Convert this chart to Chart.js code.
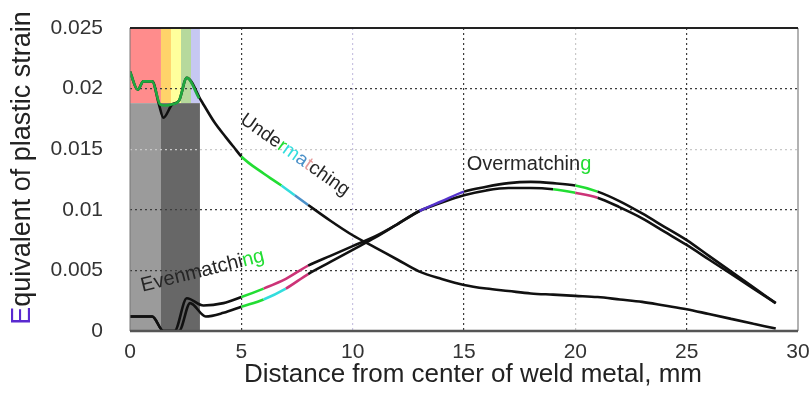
<!DOCTYPE html>
<html>
<head>
<meta charset="UTF-8">
<title>Equivalent plastic strain</title>
<script src="https://cdn.jsdelivr.net/npm/chart.js@4.4.0/dist/chart.umd.min.js"></script>
<style>
  html, body { margin: 0; padding: 0; background: #fff; }
</style>
</head>
<body>
<canvas id="myChart" width="812" height="396"></canvas>

<script>
// values: distance from weld centre (mm) -> equivalent plastic strain
let underX = [0, 0.35, 0.6, 1.0, 1.3, 1.5, 1.9, 2.2, 2.55, 3.2, 3.8, 4.3, 4.65, 5, 6, 6.8, 7.4, 8, 9, 10, 11, 12, 13, 14, 15, 16, 17, 18, 19, 20, 21, 22, 23, 24, 25, 26, 27, 28, 29];
let underY = [0.0214, 0.0199, 0.0206, 0.0206, 0.0187, 0.0176, 0.0187, 0.0190, 0.0209, 0.0190, 0.0172, 0.0160, 0.0152, 0.0144, 0.0130, 0.0120, 0.0112, 0.0104, 0.0091, 0.0079, 0.0069, 0.0059, 0.0049, 0.0043, 0.0038, 0.0035, 0.0033, 0.0031, 0.0030, 0.0029, 0.0028, 0.0026, 0.0024, 0.0021, 0.0018, 0.0014, 0.0010, 0.0006, 0.0002];

// green trace drawn over the weld zone
let underTopX = [0, 0.35, 0.6, 1.0, 1.35, 1.6, 1.9, 2.2, 2.55, 3.1];
let underTopY = [0.0214, 0.0199, 0.0206, 0.0206, 0.0187, 0.0186, 0.0187, 0.0190, 0.0209, 0.0192];

let overX = [0, 1.0, 1.5, 2.0, 2.55, 3.3, 4.2, 5, 6, 7, 8, 9, 10, 11, 12, 13, 14, 15, 16, 17, 18, 19, 20, 21, 22, 23, 24, 25, 26, 27, 28, 29];
let overY = [0.0012, 0.0012, 0.0, 0.0, 0.0027, 0.0021, 0.0023, 0.0028, 0.0035, 0.0043, 0.0054, 0.0062, 0.0070, 0.0078, 0.0088, 0.0099, 0.0107, 0.0115, 0.0119, 0.0122, 0.0123, 0.0122, 0.0120, 0.0115, 0.0107, 0.0097, 0.0086, 0.0075, 0.0062, 0.0049, 0.0036, 0.0023];

let evenX = [0, 1.0, 1.5, 2.2, 2.7, 3.4, 4.2, 5, 6, 7, 8, 9, 10, 11, 12, 13, 14, 15, 16, 17, 18, 19, 20, 21, 22, 23, 24, 25, 26, 27, 28, 29];
let evenY = [0.0012, 0.0012, 0.0, 0.0, 0.0023, 0.0012, 0.0015, 0.0020, 0.0026, 0.0035, 0.0047, 0.0057, 0.0067, 0.0077, 0.0088, 0.0099, 0.0106, 0.0112, 0.0116, 0.0118, 0.0118, 0.0117, 0.0114, 0.0110, 0.0102, 0.0093, 0.0082, 0.0071, 0.0059, 0.0047, 0.0035, 0.0023];

let xTicks = [0, 5, 10, 15, 20, 25, 30];
let yTicks = [0, 0.005, 0.01, 0.015, 0.02, 0.025];

// weld zone bands (mm) and the height of the grey blocks
let zoneEdges = [0, 1.39, 1.84, 2.29, 2.74, 3.14];
let zoneTop = 0.0188;
</script>

<script>
const FONT = '"Liberation Sans", Arial, sans-serif';
const pts = (xs, ys) => xs.map((v, i) => ({ x: v, y: ys[i] }));

const GREEN = '#22dd33', CYAN = '#33dddd', BLUE = '#4a90c8', MAG = '#cc3377', PURP = '#5533cc';

function between(c, a, b) {
  const x0 = c.p0.parsed.x;
  return x0 >= a && x0 < b;
}

// draw a line of text whose pieces have their own colour
function richText(ctx, parts, cx, cy, ang, size) {
  ctx.save();
  ctx.translate(cx, cy);
  ctx.rotate(ang * Math.PI / 180);
  ctx.font = size + 'px ' + FONT;
  ctx.textBaseline = 'middle';
  ctx.textAlign = 'left';
  let w = 0;
  parts.forEach(p => { w += ctx.measureText(p[0]).width; });
  let xx = -w / 2;
  parts.forEach(p => {
    ctx.fillStyle = p[1];
    ctx.fillText(p[0], xx, 0);
    xx += ctx.measureText(p[0]).width;
  });
  ctx.restore();
}

const decor = {
  id: 'decor',
  beforeDraw(chart) {
    const { ctx, chartArea: a, scales: { x, y } } = chart;
    ctx.save();
    ctx.fillStyle = '#fff';
    ctx.fillRect(0, 0, chart.width, chart.height);
    const yt = y.getPixelForValue(zoneTop);
    const px = zoneEdges.map(v => x.getPixelForValue(v));
    const bands = ['#ff8c8c', '#ffd36a', '#ffff9c', '#b6d99c', '#c6c8f2'];
    for (let i = 0; i < bands.length; i++) {
      ctx.fillStyle = bands[i];
      ctx.fillRect(px[i], a.top, px[i + 1] - px[i], yt - a.top);
    }
    ctx.fillStyle = '#9b9b9b';
    ctx.fillRect(px[0], yt, px[1] - px[0], a.bottom - yt);
    ctx.fillStyle = '#676767';
    ctx.fillRect(px[1], yt, px[5] - px[1], a.bottom - yt);
    ctx.restore();
  },
  afterDatasetsDraw(chart) {
    const { ctx, chartArea: a, scales: { x, y } } = chart;
    ctx.save();
    // frame
    ctx.lineWidth = 1.5; ctx.strokeStyle = '#999';
    ctx.beginPath(); ctx.moveTo(a.right, a.top); ctx.lineTo(a.right, a.bottom); ctx.stroke();
    ctx.lineWidth = 1; ctx.strokeStyle = '#777';
    ctx.beginPath(); ctx.moveTo(a.left, a.top); ctx.lineTo(a.left, a.bottom); ctx.stroke();
    ctx.lineWidth = 2; ctx.strokeStyle = '#222';
    ctx.beginPath(); ctx.moveTo(a.left, a.top); ctx.lineTo(a.right, a.top); ctx.stroke();
    ctx.lineWidth = 2.5; ctx.strokeStyle = '#555';
    ctx.beginPath(); ctx.moveTo(a.left, a.bottom); ctx.lineTo(a.right, a.bottom); ctx.stroke();
    ctx.restore();

    // curve labels
    const dark = '#262626';
    richText(ctx, [['Unde', dark], ['r', GREEN], ['m', CYAN], ['a', BLUE], ['t', '#e59a9a'], ['ching', dark]],
      x.getPixelForValue(7.41), y.getPixelForValue(0.01452), 35, 19);
    richText(ctx, [['Evenmatchi', dark], ['ng', GREEN]],
      x.getPixelForValue(3.26), y.getPixelForValue(0.00495), -14, 20);
    richText(ctx, [['Overmatchin', dark], ['g', GREEN]],
      x.getPixelForValue(17.92), y.getPixelForValue(0.01378), 0, 20);

    // axis titles
    richText(ctx, [['Distance from center of weld metal, mm', '#222']],
      (a.left + a.right) / 2 + 9, 375, 0, 26);
    richText(ctx, [['E', '#5a2ad0'], ['quivalent of plastic strain', '#222']],
      23, 168, -90, 27);
  }
};

const lineBase = {
  borderColor: '#111',
  borderWidth: 2.6,
  pointRadius: 0,
  fill: false,
  cubicInterpolationMode: 'monotone'
};

new Chart('myChart', {
  type: 'line',
  data: {
    datasets: [
      Object.assign({}, lineBase, {
        label: 'Undermatching (weld zone)',
        data: pts(underTopX, underTopY),
        borderColor: '#1fa83f'
      }),
      Object.assign({}, lineBase, {
        label: 'Undermatching',
        data: pts(underX, underY),
        segment: {
          borderColor: c => between(c, 5, 6.8) ? GREEN : between(c, 6.8, 7.4) ? CYAN : between(c, 7.4, 8) ? BLUE : undefined
        }
      }),
      Object.assign({}, lineBase, {
        label: 'Overmatching',
        data: pts(overX, overY),
        segment: {
          borderColor: c => between(c, 5, 6) ? GREEN : between(c, 6, 8) ? MAG : between(c, 13, 15) ? PURP : between(c, 20, 21) ? GREEN : undefined
        }
      }),
      Object.assign({}, lineBase, {
        label: 'Evenmatching',
        data: pts(evenX, evenY),
        segment: {
          borderColor: c => between(c, 5, 6) ? GREEN : between(c, 6, 7) ? CYAN : between(c, 7, 8) ? MAG : between(c, 19, 20) ? GREEN : between(c, 20, 21) ? MAG : undefined
        }
      })
    ]
  },
  options: {
    responsive: false,
    animation: false,
    layout: { padding: { top: 28, right: 14, bottom: 0, left: 0 } },
    plugins: { legend: { display: false }, tooltip: { enabled: false } },
    scales: {
      x: {
        type: 'linear',
        min: 0, max: 30,
        afterBuildTicks: s => { s.ticks = xTicks.map(v => ({ value: v })); },
        afterFit: s => { s.height = 65; s.paddingLeft = 0; s.paddingRight = 0; },
        ticks: {
          padding: 9,
          color: '#333',
          font: { family: FONT, size: 21 },
          maxRotation: 0,
          callback: v => String(v)
        },
        grid: {
          drawTicks: false,
          lineWidth: 1.2,
          color: c => (c.tick.value === 0 || c.tick.value === 30) ? 'rgba(0,0,0,0)' :
            (c.tick.value === 10 ? '#c9c2e2' : c.tick.value === 20 ? '#c8c8c8' : '#3c3c3c')
        },
        border: { display: false, dash: [2, 3] }
      },
      y: {
        min: 0, max: 0.025,
        afterBuildTicks: s => { s.ticks = yTicks.map(v => ({ value: v })); },
        afterFit: s => { s.width = 130; s.paddingTop = 0; s.paddingBottom = 0; },
        ticks: {
          padding: 27,
          color: '#333',
          font: { family: FONT, size: 21 },
          callback: v => String(+v.toFixed(3))
        },
        grid: {
          drawTicks: false,
          lineWidth: 1.2,
          color: c => (c.tick.value === 0 || c.tick.value === 0.025) ? 'rgba(0,0,0,0)' :
            (c.tick.value === 0.015 ? '#c8c8c8' : '#3c3c3c')
        },
        border: { display: false, dash: [2, 3] }
      }
    }
  },
  plugins: [decor]
});
</script>
</body>
</html>
